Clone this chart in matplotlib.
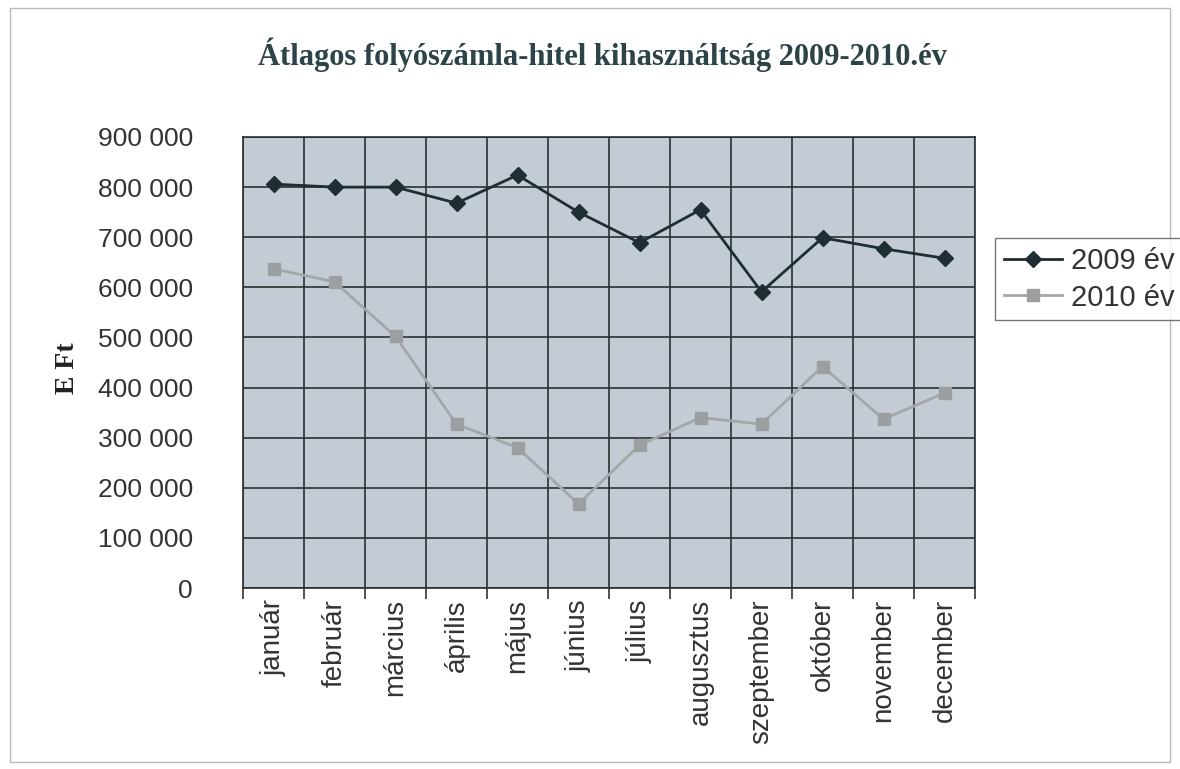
import matplotlib
matplotlib.use("Agg")
import matplotlib.pyplot as plt
from matplotlib.patches import Rectangle
from matplotlib.ticker import FuncFormatter, MultipleLocator

months = ["január", "február", "március", "április", "május", "június",
          "július", "augusztus", "szeptember", "október", "november", "december"]
y2009 = [806000, 800000, 800000, 768000, 824000, 750000,
         689000, 755000, 591000, 699000, 677000, 658000]
y2010 = [637000, 611000, 502000, 327000, 280000, 168000,
         285000, 340000, 327000, 442000, 337000, 389000]
series_labels = ["2009 év", "2010 év"]
title = "Átlagos folyószámla-hitel kihasználtság 2009-2010.év"
ylabel = "E Ft"

fig = plt.figure(figsize=(11.8, 7.69), dpi=100)
fig.patch.set_facecolor("white")
W, H = 1180, 769
left, right, top, bottom = 243, 975, 137, 588
ax = fig.add_axes([left / W, 1 - bottom / H, (right - left) / W, (bottom - top) / H])
ax.set_facecolor("#c3ccd4")

x = list(range(len(months)))
ax.plot(x, y2009, color="#1e2e32", lw=2, marker="D", ms=8, label=series_labels[0], zorder=3)
ax.plot(x, y2010, color="#a3a7aa", lw=2, marker="s", ms=8, mfc="#9c9fa2", mec="#9c9fa2",
        label=series_labels[1], zorder=3)

ax.set_xlim(-0.5, len(months) - 0.5)
ax.set_ylim(0, 900000)
ax.yaxis.set_major_locator(MultipleLocator(100000))
ax.yaxis.set_major_formatter(FuncFormatter(lambda v, p: f"{int(v):,}".replace(",", " ")))
ax.grid(axis="y", color="#2a3032", lw=1.2)
ax.set_axisbelow(True)

# category boundary lines
ax.set_xticks([i - 0.5 for i in range(len(months) + 1)])
ax.set_xticklabels([])
ax.set_xticks(x, minor=True)
ax.set_xticklabels(months, minor=True, rotation=90, fontsize=20, family="Liberation Sans", color="#333333")
ax.tick_params(axis="x", which="minor", length=0, pad=8)
ax.tick_params(axis="x", which="major", length=8, color="#333333", width=1.2)
ax.grid(axis="x", which="major", color="#2a3032", lw=1.2)
ax.tick_params(axis="y", length=0, pad=36, labelsize=19, labelcolor="#333333")
for lab in ax.get_yticklabels():
    lab.set_family("Liberation Sans")
for s in ax.spines.values():
    s.set_color("#2a3032")
    s.set_linewidth(1.2)

fig.text(602 / W, 1 - 55 / H, title, ha="center", va="center",
         fontsize=22, fontweight="bold", family="Liberation Serif", color="#2c4348")
fig.text(67 / W, 1 - 368 / H, ylabel, ha="center", va="center", rotation=90,
         fontsize=20, fontweight="bold", family="Liberation Serif", color="#222222")

leg = fig.legend(loc="upper left", bbox_to_anchor=(995 / W, 1 - 238 / H), frameon=True,
                 prop={"family": "Liberation Sans", "size": 21}, handlelength=2.0,
                 handletextpad=0.3, borderpad=0.3, labelspacing=0.3, fancybox=False,
                 borderaxespad=0)
leg.get_frame().set_edgecolor("#555555")
leg.get_frame().set_linewidth(1.0)
for t in leg.get_texts():
    t.set_color("#333333")

fig.add_artist(Rectangle((10 / W, 1 - 762 / H), 1160 / W, 754 / H, transform=fig.transFigure,
                         fill=False, edgecolor="#bbbbbb", lw=1))

fig.savefig("out.png", dpi=100)
